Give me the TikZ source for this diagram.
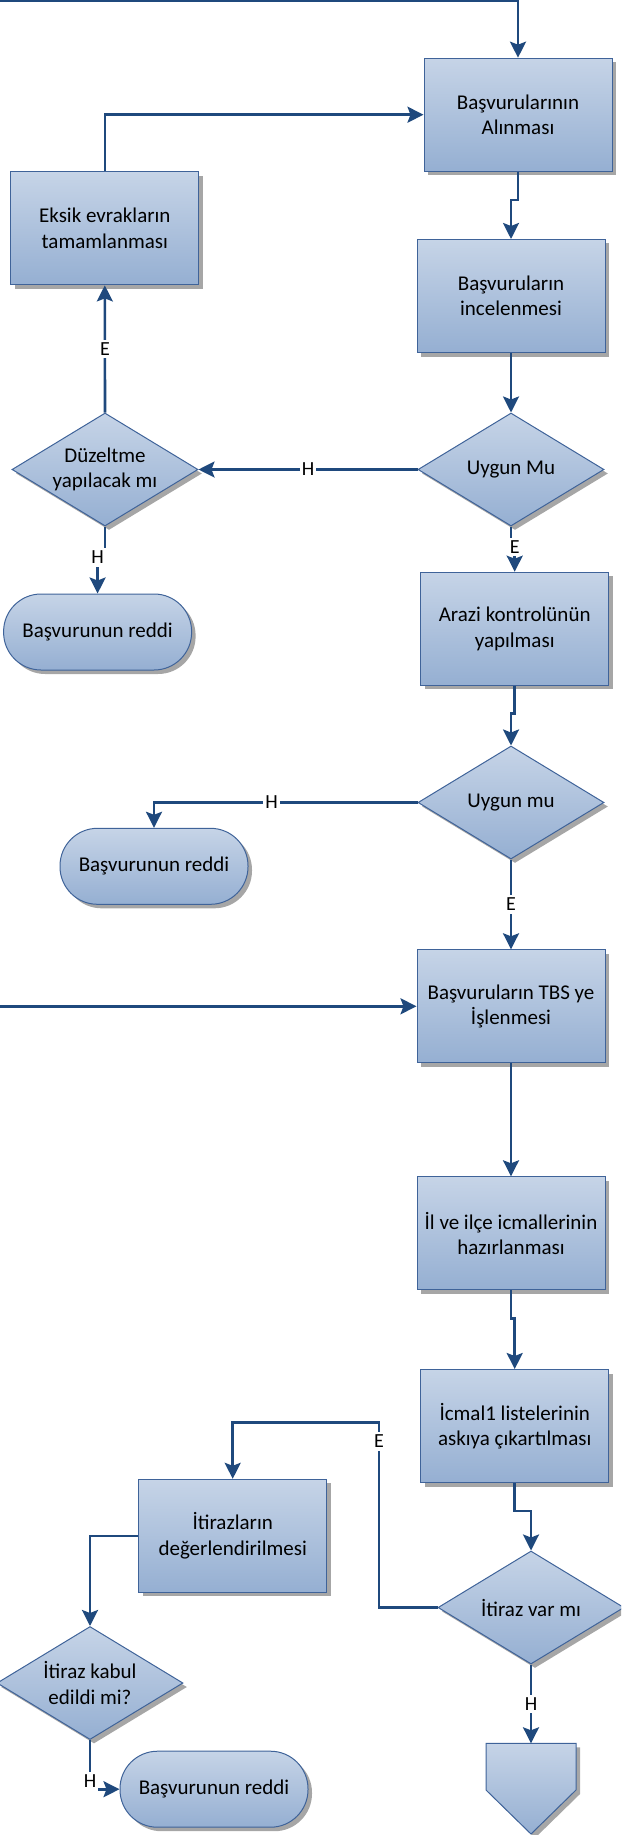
\documentclass[tikz,border=0pt]{standalone}
\usepackage{fontspec}
\setmainfont{Carlito}
\usetikzlibrary{arrows.meta,shapes.geometric,shadows,calc}
\definecolor{fillTop}{HTML}{C6D4E7}
\definecolor{fillBot}{HTML}{95AFD2}
\definecolor{bordc}{HTML}{3F6399}
\definecolor{connc}{HTML}{1F497D}
\definecolor{shadc}{HTML}{A6A6A6}
\begin{document}
\begin{tikzpicture}[x=1pt,y=-1pt,
  shp/.style={draw=bordc, line width=1pt, top color=fillTop, bottom color=fillBot,
    general shadow={fill=shadc, shadow xshift=4pt, shadow yshift=-4pt},
    font=\fontsize{21}{25.5}\selectfont, align=center, inner sep=0pt, text=black},
  procbox/.style={shp, rectangle, minimum width=188pt, minimum height=113pt},
  decis/.style={shp, diamond, aspect=1.646, minimum width=186pt, minimum height=113pt},
  termin/.style={shp, rectangle, rounded corners=37.5pt, minimum width=188pt, minimum height=76pt},
  conn/.style={draw=connc, line width=2.6pt, -{Stealth[length=16pt,width=16pt,inset=3pt]}},
  lbl/.style={fill=white, font=\fontsize{20}{22}\selectfont, inner xsep=2pt, inner ysep=3pt, text=black}
]
\useasboundingbox (0,0) rectangle (621,1835);
\clip (0,0) rectangle (621,1835);

% nodes
\node[procbox] (b1) at (518,114.7) {Başvurularının\\Alınması};
\node[procbox] (eks) at (104.8,228.4) {Eksik evrakların\\tamamlanması};
\node[procbox] (b2) at (511,296) {Başvuruların\\incelenmesi};
\node[decis] (d1) at (511,469.5) {Uygun Mu};
\node[decis] (d2) at (105,469.5) {Düzeltme\\yapılacak mı};
\node[termin] (t1) at (97.6,632) {Başvurunun reddi};
\node[procbox] (b3) at (514.7,628.7) {Arazi kontrolünün\\yapılması};
\node[decis] (d3) at (511,802.5) {Uygun mu};
\node[termin] (t2) at (154,866.3) {Başvurunun reddi};
\node[procbox] (b4) at (511,1006.3) {Başvuruların TBS ye\\İşlenmesi};
\node[procbox] (b5) at (511,1233.3) {İl ve ilçe icmallerinin\\hazırlanması};
\node[procbox] (b6) at (514.7,1426) {İcmal1 listelerinin\\askıya çıkartılması};
\node[decis] (d4) at (531,1607.5) {İtiraz var mı};
\node[procbox] (b7) at (232.7,1535.8) {İtirazların\\değerlendirilmesi};
\node[decis] (d5) at (90,1683) {İtiraz kabul\\edildi mi?};
\node[termin] (t3) at (214,1789.2) {Başvurunun reddi};

% off-page connector
\coordinate (pT) at (531,1743.3);
\fill[shadc] (490,1747.3) -- (580,1747.3) -- (580,1794) -- (535,1838) -- (490,1794) -- cycle;
\draw[bordc, line width=1pt, top color=fillTop, bottom color=fillBot]
  (486,1743.3) -- (576,1743.3) -- (576,1790) -- (531,1834) -- (486,1790) -- cycle;

% connectors
\coordinate (topL) at (0,1);
\draw[conn] (topL) -| (b1.north);
\draw[conn] (eks.north) |- (b1.west);
\draw[conn] (b1.south) -- ++(0,28.3) -| (b2.north);
\draw[conn] (b2.south) -- (d1.north);
\draw[conn] (d1.west) -- node[lbl] (l1) {H} (d2.east);
\draw[conn] (d2.north) -- node[lbl] (l2) {E} (eks.south);
\draw[conn] (d2.south) -- ++(0,31) -| node[lbl] (l3) {H} (t1.north);
\draw[conn] (d1.south) -- ++(0,20.5) -| node[lbl] (l4) {E} (b3.north);
\draw[conn] (b3.south) -- ++(0,28) -| (d3.north);
\draw[conn] (d3.west) -| node[lbl,pos=0.277] (l5) {H} (t2.north);
\draw[conn] (d3.south) -- node[lbl] (l6) {E} (b4.north);
\coordinate (lftL) at (0,1006.3);
\draw[conn] (lftL) -- (b4.west);
\draw[conn] (b4.south) -- (b5.north);
\draw[conn] (b5.south) -- ++(0,28.3) -| (b6.north);
\draw[conn] (b6.south) -- ++(0,28) -| (d4.north);
\coordinate (eTurn) at (379,1422.7);
\draw[conn] (d4.west) -| node[lbl,pos=0.95] (l7) {E} (eTurn) -| (b7.north);
\draw[conn] (b7.west) -| (d5.north);
\draw[conn] (d5.south) |- node[lbl,pos=0.418] (l8) {H} (t3.west);
\draw[conn] (d4.south) -- node[lbl] (l9) {H} (pT);
\end{tikzpicture}
\end{document}
